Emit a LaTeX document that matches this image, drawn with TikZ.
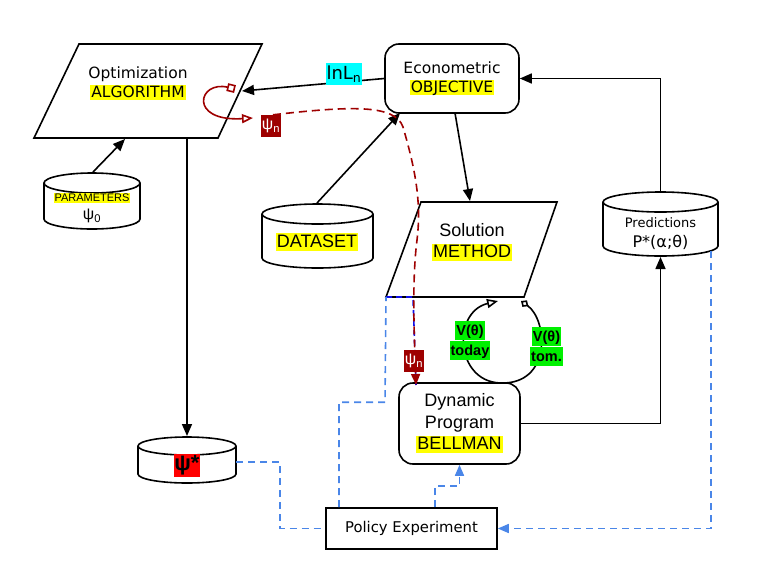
\documentclass[tikz,border=0pt]{standalone}
\usepackage{fontspec}
\setmainfont{DejaVu Sans}
\newfontfamily\arial{Liberation Sans}
\usetikzlibrary{arrows.meta}
\definecolor{hlyellow}{HTML}{FFFF00}
\definecolor{hlcyan}{HTML}{00FFFF}
\definecolor{hlgreen}{HTML}{00F000}
\definecolor{dred}{HTML}{9E0000}
\definecolor{lblue}{HTML}{4A86E8}
\definecolor{dblue}{HTML}{1010E8}
\definecolor{psired}{HTML}{FF0000}
\newcommand\hlb[2]{{\setlength\fboxsep{0pt}\colorbox{#1}{\kern1pt\rule[-0.17em]{0pt}{0.97em}#2\kern1pt}}}
\newcommand\hlg[1]{{\setlength\fboxsep{0pt}\colorbox{hlgreen}{\kern1pt\rule[-0.3em]{0pt}{1.3em}#1\kern1pt}}}
\newcommand\cyl[5]{%
  \pgfmathsetmacro\cylcx{(#1+#2)/2}%
  \pgfmathsetmacro\cylrx{(#2-#1)/2}%
  \pgfmathsetmacro\cylyt{-(#3+#5)}%
  \pgfmathsetmacro\cylyb{-(#4-#5)}%
  \draw[shp] (\cylcx,\cylyt) ellipse[x radius=\cylrx, y radius=#5];
  \draw[shp] (#1,\cylyt) -- (#1,\cylyb) arc[start angle=180,end angle=360,x radius=\cylrx,y radius=#5] -- (#2,\cylyt);
}
\tikzset{
  shp/.style={line width=1.6pt, black},
  arr/.style={line width=1.6pt, black, -{Triangle[length=12pt,width=10pt]}},
  bdash/.style={line width=1.6pt, lblue, dash pattern=on 7pt off 5pt},
  rdash/.style={line width=1.6pt, dred, dash pattern=on 8pt off 5pt},
  rbox/.style={draw, line width=1.6pt, rounded corners=14pt, inner sep=0pt, align=center},
  psilab/.style={fill=dred, text=white, inner sep=0.5pt, minimum height=22pt, minimum width=19pt, font=\arial\fontsize{16}{16}\selectfont},
}
\begin{document}
\begin{tikzpicture}[x=1pt,y=1pt]
\useasboundingbox (0,0) rectangle (768,-576);

% parallelograms
\draw[shp] (79,-44) -- (262,-44) -- (218,-138) -- (34,-138) -- cycle;
\node[font=\fontsize{15.5}{19}\selectfont, align=center] (optT) at (138,-83.5) {Optimization\\\hlb{hlyellow}{ALGORITHM}};
\draw[shp] (421,-202) -- (557,-202) -- (524,-297) -- (386,-297) -- cycle;
\node[font=\arial\fontsize{18}{21}\selectfont, align=center] (solT) at (472,-242.5) {Solution\\\hlb{hlyellow}{METHOD}};

% boxes
\node[rbox, minimum width=134pt, minimum height=69pt, font=\fontsize{15.5}{19}\selectfont] (econ) at (452,-78.5) {Econometric\\\hlb{hlyellow}{OBJECTIVE}};
\node[rbox, minimum width=121pt, minimum height=81pt, font=\arial\fontsize{18}{21.5}\selectfont] (dp) at (459.5,-423.5) {Dynamic\\Program\\\hlb{hlyellow}{BELLMAN}};
\node[draw, line width=1.6pt, minimum width=171pt, minimum height=41pt, inner sep=0pt, font=\fontsize{14.8}{17}\selectfont] (policy) at (411.5,-528.5) {Policy Experiment};

% cylinders
\cyl{44}{140}{173}{229}{10}
\node[font=\arial\fontsize{11}{11}\selectfont] (parT) at (92,-198) {\hlb{hlyellow}{PARAMETERS}};
\node[font=\arial\fontsize{16}{16}\selectfont] (par0) at (92,-216) {ψ\textsubscript{0}};
\cyl{262}{373}{204}{268}{10}
\node[font=\arial\fontsize{18}{18}\selectfont] (dataT) at (317,-242) {\hlb{hlyellow}{DATASET}};
\cyl{603}{718}{192}{256}{10}
\node[font=\fontsize{13}{16}\selectfont] (predT) at (660.5,-223) {Predictions};
\node[font=\fontsize{16}{16}\selectfont] (predP) at (660.5,-242) {P*(α;θ)};
\cyl{138}{236}{437}{483}{9}
\node[fill=psired, inner sep=0.5pt, minimum height=23pt, font=\arial\bfseries\fontsize{22}{22}\selectfont] (psistar) at (187,-465.5) {ψ*};

% named connection points
\coordinate (parTop) at (93,-172);
\coordinate (optBot) at (125,-139);
\coordinate (optBot2) at (187,-138);
\coordinate (psiTop) at (187,-436);
\coordinate (optR) at (242,-91);
\coordinate (dataTop) at (317,-203);
\coordinate (econBL) at (400,-113);
\coordinate (econB) at (455,-113);
\coordinate (solTop) at (470,-201);
\coordinate (predTop) at (660.5,-192);
\coordinate (predBot) at (660.5,-257);
\coordinate (loopS) at (235,-89);
\coordinate (loopE) at (253,-118);
\coordinate (solBL) at (386,-297);
\coordinate (solB1) at (413,-297);
\coordinate (dpTop) at (416,-385);
\coordinate (solD) at (521,-301);
\coordinate (solA) at (498,-301);
\coordinate (psiR) at (236,-462);
\coordinate (predBR) at (711,-251);

% black connectors
\draw[arr] (parTop) -- (optBot);
\draw[arr] (optBot2) -- (psiTop);
\draw[arr] (econ.west) -- (optR);
\node[fill=hlcyan, inner sep=0.5pt, minimum height=22pt, font=\fontsize{18}{18}\selectfont] (lnl) at (344,-74) {lnL\textsubscript{n}};
\draw[arr] (dataTop) -- (econBL);
\draw[arr] (econB) -- (solTop);
\draw[arr] (predTop) |- (econ.east);
\draw[arr] (dp.east) -| (predBot);

% solution / DP loop
\draw[line width=1.6pt, {Diamond[open,length=9pt,width=8pt]}-{Triangle[open,length=11pt,width=9pt]}]
  (solD) .. controls (548,-320) and (552,-385) .. (500,-383) .. controls (455,-381) and (452,-312) .. (solA);
\node[font=\arial\bfseries\fontsize{14.5}{18.5}\selectfont, align=center] (vtoday) at (470,-340.5) {\hlg{V(θ)}\\\hlg{today}};
\node[font=\arial\bfseries\fontsize{14.5}{18.5}\selectfont, align=center] (vtom) at (546.5,-346.5) {\hlg{V(θ)}\\\hlg{tom.}};

% red loop on optimization
\draw[dred, line width=1.6pt, {Square[open,length=8pt,width=8pt]}-{Triangle[open,length=11pt,width=9pt]}]
  (loopS) .. controls (198,-80) and (188,-122) .. (loopE);
\node[psilab] (psin1) at (271,-126) {ψ\textsubscript{n}};

% dashed connectors
\draw[line width=1.6pt, dblue, dash pattern=on 6pt off 4pt] (solBL) -- (solB1) -- (dpTop);
\draw[rdash, -{Triangle[length=11pt,width=9pt]}] ([xshift=2pt]psin1.north)
  .. controls (350,-106) and (395,-104) .. (403,-127)
  .. controls (414,-165) and (422,-200) .. (417,-240)
  .. controls (412,-280) and (414,-330) .. (dpTop);
\node[psilab] (psin2) at (414,-361) {ψ\textsubscript{n}};

\draw[bdash] ([xshift=-72.5pt]policy.north) -- ++(0,105) -- ++(46,0) -- (solBL);
\draw[bdash] (psiR) -- ++(44,0) |- (policy.west);
\draw[bdash, -{Triangle[length=11pt,width=9pt]}] ([xshift=23.5pt]policy.north) -- ++(0,21) -| (dp.south);
\draw[bdash, -{Triangle[length=11pt,width=9pt]}] (predBR) |- (policy.east);
\end{tikzpicture}
\end{document}
